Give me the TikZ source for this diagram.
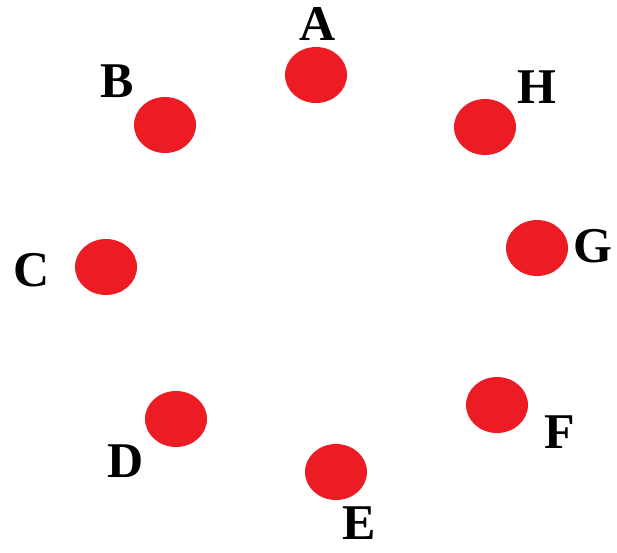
\documentclass[tikz,border=0pt]{standalone}
\usepackage{fontspec}
\setmainfont{Liberation Serif}
\usetikzlibrary{shapes.geometric}
\definecolor{paintred}{RGB}{237,28,36}
\begin{document}
\begin{tikzpicture}[x=1pt,y=-1pt,
    dot/.style={ellipse,fill=paintred,minimum width=62pt,minimum height=56pt,inner sep=0pt},
    lbl/.style={font=\fontsize{50}{50}\selectfont\bfseries,inner sep=0pt}]

% Frame
\useasboundingbox (0,0) rectangle (617,552);

% Dots
\foreach \name/\x/\y in {A/316/75,B/165/125,H/485/127,C/106/267,G/537/248,D/176/419,F/497/405,E/336/472}{
    \node[dot] (dot\name) at (\x,\y) {};
}

% Letters
\foreach \name/\x/\y in {A/318/24,B/117/81,H/537/87,C/32/270,G/593/246,D/126/461,F/560/432,E/359/523}{
    \node[lbl] (lbl\name) at (\x,\y) {\name};
}

\end{tikzpicture}
\end{document}
